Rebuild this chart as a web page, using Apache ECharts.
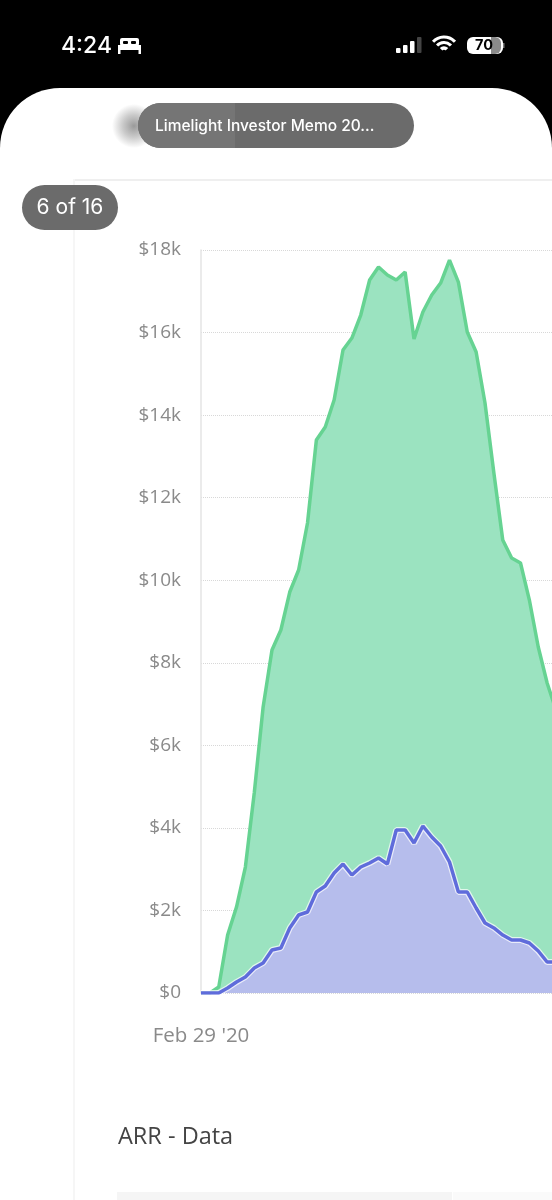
<!DOCTYPE html>
<html>
<head>
<meta charset="utf-8">
<style>html,body{margin:0;padding:0;background:#fff}#c{width:552px;height:1200px}</style>
<script src="https://cdn.jsdelivr.net/npm/echarts@6/dist/echarts.min.js"></script>
</head>
<body>
<div id="c"></div>
<script>
const firstDateLabel = "Feb 29 '20";
const yTickLabels = ['$0','$2k','$4k','$6k','$8k','$10k','$12k','$14k','$16k','$18k'];
const greenValues = [0,0,145,1405,2083,3052,4845,6928,8309,8794,9714,10247,11386,13396,13711,14365,15576,15867,16424,17272,17587,17393,17272,17466,15843,16497,16909,17200,17757,17224,16013,15528,14293,12597,10974,10538,10417,9520,8382,7510,6856];
const purpleValues = [0,0,0,121,266,388,606,727,1042,1090,1575,1890,1962,2447,2592,2907,3125,2859,3052,3149,3270,3125,3949,3949,3634,4046,3779,3561,3174,2447,2447,2059,1696,1575,1405,1284,1284,1211,1017,751,751];
const categories = greenValues.map((_, i) => i === 0 ? firstDateLabel : '');

const font = '"Open Sans","Noto Sans",sans-serif';
const sys = 'Inter,Roboto,sans-serif';
const rect = (x,y,w,h,fill,r) => ({type:'rect',shape:{x,y,width:w,height:h,r:r||0},style:{fill}});
const text = (t,x,y,fill,f,align) => ({type:'text',style:{text:t,x,y,fill,font:f,textAlign:align||'left',textVerticalAlign:'middle'}});
const arc = (r,lw) => ({type:'arc',shape:{cx:444,cy:52,r,startAngle:-Math.PI*0.76,endAngle:-Math.PI*0.24},style:{stroke:'#fff',lineWidth:lw,fill:null}});

const chart = echarts.init(document.getElementById('c'), null, {renderer:'canvas'});
chart.setOption({
  animation:false,
  backgroundColor:'#fff',
  grid:{left:201,width:355,top:250,height:743,containLabel:false,outerBoundsMode:'none'},
  xAxis:{type:'category',data:categories,boundaryGap:false,
    axisLine:{show:false},axisTick:{show:false},splitLine:{show:false},
    axisLabel:{show:true,interval:0,margin:33,color:'#8a8a8a',fontSize:20.5,fontFamily:font,hideOverlap:false}},
  yAxis:{type:'value',min:0,max:18000,interval:2000,
    axisLine:{show:true,lineStyle:{color:'#e4e4e4',width:1.5}},axisTick:{show:false},
    splitLine:{show:true,lineStyle:{color:'#d8d8d8',type:'dotted',width:1}},
    axisLabel:{margin:20,color:'#8a8a8a',fontSize:19,fontFamily:font,padding:[4,0,0,0],
      formatter:(v)=>yTickLabels[v/2000]}},
  series:[
    {type:'line',data:greenValues,symbol:'none',smooth:false,
      lineStyle:{color:'#66d392',width:3.5},areaStyle:{color:'#9be3c0',opacity:1},z:2},
    {type:'line',data:purpleValues,symbol:'none',smooth:false,
      lineStyle:{color:'#ffffff',width:6,opacity:0.7},areaStyle:{color:'#b6bdec',opacity:1},z:3},
    {type:'line',data:purpleValues,symbol:'none',smooth:false,
      lineStyle:{color:'#5f6cdb',width:3.5},z:4}
  ],
  graphic:{elements:[
    rect(0,0,552,170,'#000'),
    {type:'rect',shape:{x:0,y:88,width:552,height:120,r:[60,60,0,0]},style:{fill:'#fff'}},
    rect(73,179,479,2,'#efefef'),
    rect(73,179,2,1021,'#f6f6f6'),
    {type:'ellipse',shape:{cx:134,cy:126,rx:40,ry:22},style:{fill:{type:'radial',x:0.5,y:0.5,r:0.5,colorStops:[{offset:0,color:'rgba(110,110,110,0.7)'},{offset:0.5,color:'rgba(120,120,120,0.4)'},{offset:1,color:'rgba(120,120,120,0)'}]}}},
    rect(138,103,276,45,'#6b6b6b',22.5),
    {type:'rect',shape:{x:138,y:103,width:97,height:45,r:[22.5,0,0,22.5]},style:{fill:'#757575'}},
    text('Limelight Investor Memo 20...',155,126,'#fff','500 15.5px '+sys),
    rect(22,185,96,45,'#6b6b6b',22.5),
    text('6 of 16',70,208,'#fff','21px '+sys,'center'),
    text('4:24',61,46,'#fff','500 23px '+sys),
    rect(118,45,23,5,'#fff',1),
    rect(118,45,2.5,9,'#fff'),
    rect(138.5,45,2.5,9,'#fff'),
    rect(120,38,19,8,'#fff',2),
    rect(123,41,5,3,'#000',1),
    rect(131,41,5,3,'#000',1),
    rect(396,48,4.5,5,'#fff',1),
    rect(403,45,4.5,8,'#fff',1),
    rect(410,41,4.5,12,'#fff',1),
    rect(417,37,4.5,16,'#444',1),
    arc(15,3),arc(9.5,3),arc(4,3.5),
    rect(467,37,36,17,'#fff',6),
    {type:'rect',shape:{x:491,y:37,width:10,height:17,r:[0,6,6,0]},style:{fill:'#8a8a8a'}},
    rect(503,43,1.5,5,'#777'),
    text('70',484,46,'#000','bold 14.5px '+sys,'center'),
    text('ARR - Data',118,1137,'#444','23.5px '+font),
    rect(117,1192,335,8,'#f5f5f5'),
    rect(453,1192,99,8,'#fafafa')
  ]}
});
</script>
</body>
</html>
